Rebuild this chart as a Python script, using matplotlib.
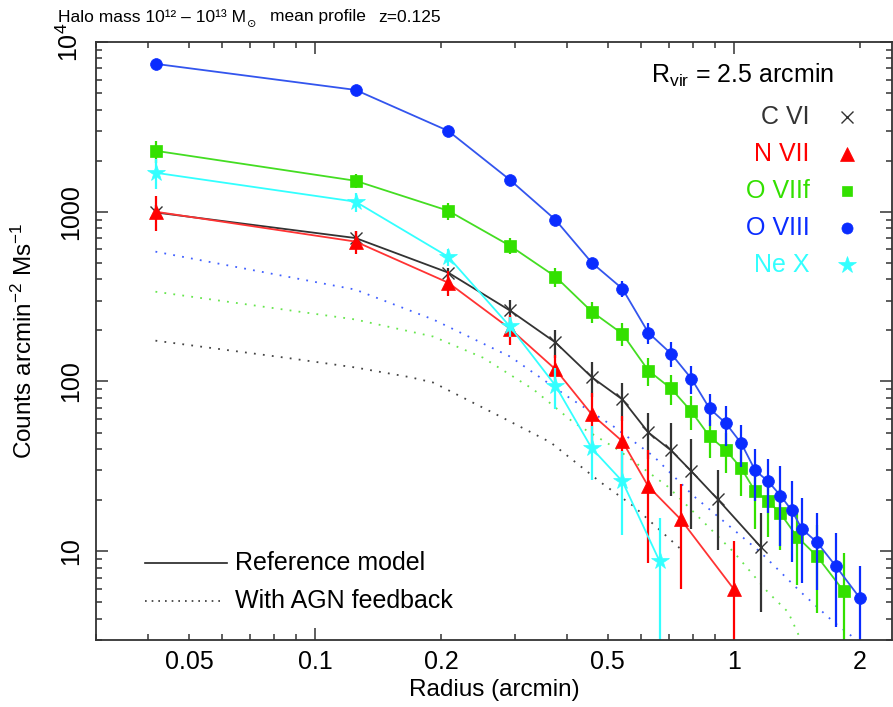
import matplotlib
matplotlib.use("Agg")
import matplotlib.pyplot as plt

# === PARAMÈTRES ===
plt.rcParams['font.family'] = ['Liberation Sans', 'DejaVu Sans']
plt.rcParams['mathtext.fontset'] = 'custom'
plt.rcParams['mathtext.rm'] = 'Liberation Sans'
plt.rcParams['mathtext.it'] = 'Liberation Sans:italic'

# === DONNÉES ===
# O VIII (bleu)
r_o8 = [0.0417, 0.125, 0.208, 0.292, 0.375, 0.458, 0.542, 0.625, 0.708, 0.792, 0.875,
        0.958, 1.042, 1.125, 1.208, 1.292, 1.375, 1.455, 1.58, 1.75, 2.0]
c_o8 = [7430, 5220, 2995, 1542, 897, 501, 352, 194, 146, 104, 69.4,
        56.6, 43.2, 29.9, 25.8, 21.3, 17.4, 13.5, 11.3, 8.2, 5.3]
e_o8 = [200, 150, 100, 60, 40, 30, 37, 28, 24, 20, 15,
        15, 12, 10, 9, 10.5, 8.7, 7, 5.4, 4.6, 2.9]

# O VIIf (vert)
r_o7 = [0.0417, 0.125, 0.208, 0.292, 0.375, 0.458, 0.542, 0.625, 0.708, 0.792,
        0.875, 0.958, 1.042, 1.125, 1.208, 1.292, 1.415, 1.58, 1.83]
c_o7 = [2285, 1522, 1014, 631, 415, 258, 191, 116, 91, 66.6,
        47.5, 39.3, 30.8, 22.5, 19.7, 16.7, 12.2, 9.35, 5.82]
e_o7 = [340, 145, 115, 68, 53, 37, 30, 22, 18, 15,
        12, 10.5, 9.6, 9, 7.5, 6.5, 5.9, 5, 4]

# N VII (rouge)
r_n7 = [0.0417, 0.125, 0.208, 0.292, 0.375, 0.458, 0.542, 0.625, 0.747, 1.0]
c_n7 = [1000, 667, 382, 205, 118, 64, 44.4, 24.1, 15.4, 5.98]
e_n7 = [235, 100, 65, 40, 26, 22, 18, 15.6, 9.4, 5.5]

# C VI (noir)
r_c6 = [0.0417, 0.125, 0.208, 0.292, 0.375, 0.458, 0.542, 0.625, 0.708, 0.792, 0.916, 1.16]
c_c6 = [990, 700, 438, 262, 170, 106, 78.4, 50.1, 39.3, 29.6, 20.2, 10.6]
e_c6 = [100, 70, 30, 42, 32, 25, 20, 15, 18, 16, 10, 6.2]

# Ne X (cyan)
r_ne = [0.0417, 0.125, 0.208, 0.292, 0.375, 0.458, 0.542, 0.665]
c_ne = [1696, 1146, 543, 211, 94.7, 40.4, 25.8, 8.73]
e_ne = [340, 147, 64, 29, 26, 14, 13.4, 7]

# Modèle avec rétroaction AGN (pointillés)
r_agn_o8 = [0.0416, 0.1247, 0.1915, 0.2927, 0.4004, 0.5164, 0.6439, 0.8027, 1.1577, 1.446, 1.733, 2.0]
c_agn_o8 = [582, 348, 232, 140, 81.7, 54.3, 36.2, 21.1, 9.87, 5.74, 3.82, 2.9]
r_agn_o7 = [0.0416, 0.1247, 0.1915, 0.2521, 0.3323, 0.4142, 0.5277, 0.6947, 0.7601, 1.0, 1.206, 1.348, 1.446]
c_agn_o7 = [338, 232, 184, 138, 89.8, 57.4, 39.8, 24.1, 19.4, 9.87, 5.74, 4.38, 3.0]
r_agn_c6 = [0.0416, 0.0871, 0.1247, 0.1687, 0.1915, 0.277, 0.3651, 0.4807, 0.5768, 0.6619, 0.7467]
c_agn_c6 = [174, 137, 121, 106, 98.6, 62.2, 43.8, 25.5, 18.4, 13.5, 10.3]

x_major = [0.1, 1]
x_minor = [0.03, 0.04, 0.05, 0.06, 0.07, 0.08, 0.09, 0.2, 0.3, 0.4, 0.5, 0.6, 0.7, 0.8, 0.9, 2]
x_minor_labels = ['', '', '0.05', '', '', '', '', '0.2', '', '', '0.5', '', '', '', '', '2']
y_major = [10, 100, 1000, 10000]
y_major_labels = ['10', '100', '1000', r'$10^{4}$']
y_minor = [3, 4, 5, 6, 7, 8, 9, 20, 30, 40, 50, 60, 70, 80, 90,
           200, 300, 400, 500, 600, 700, 800, 900, 2000, 3000, 4000, 5000, 6000, 7000, 8000, 9000]

# couleurs
col_c6 = '#333333'
col_n7 = '#ff0000'
col_o7 = '#33e000'
col_o8 = '#0a2cff'
col_ne = '#33ffff'

# === FIGURE ===
fig = plt.figure(figsize=(8.93, 7.07), dpi=100)
ax = fig.add_axes([96 / 893, 67 / 707, 797 / 893 - 0.0008, 598 / 707])

# pointillés AGN
dots = (0, (1, 4))
ax.plot(r_agn_o8, c_agn_o8, color='#4060ff', lw=1.3, ls=dots)
ax.plot(r_agn_o7, c_agn_o7, color='#66e64d', lw=1.3, ls=dots)
ax.plot(r_agn_c6, c_agn_c6, color='#444444', lw=1.3, ls=dots)

# modèle de référence avec barres d'erreur
series = [
    (r_c6, c_c6, e_c6, col_c6, '#333333', 'x', 9, 1.0),
    (r_o7, c_o7, e_o7, col_o7, '#44dd22', 's', 8, 0),
    (r_o8, c_o8, e_o8, col_o8, '#3355ee', 'o', 8.5, 0),
    (r_n7, c_n7, e_n7, col_n7, '#ff3333', '^', 10, 0),
    (r_ne, c_ne, e_ne, col_ne, '#33ffff', '*', 13, 0),
]
for r, c, e, mcol, lcol, mk, ms, mew in series:
    ax.errorbar(r, c, yerr=e, fmt='none', ecolor=mcol, elinewidth=1.6, capsize=0)
    ax.plot(r, c, color=lcol, lw=1.3)
    ax.plot(r, c, ls='none', marker=mk, ms=ms, color=mcol, mec=mcol, mew=mew if mew else 0.5)

ax.set_xscale('log')
ax.set_yscale('log')
ax.set_xlim(0.03, 2.39)
ax.set_ylim(3, 1e4)

ax.set_xticks(x_major, ['0.1', '1'])
ax.set_xticks(x_minor, x_minor_labels, minor=True)
ax.set_yticks(y_major, y_major_labels)
ax.set_yticks(y_minor, [''] * len(y_minor), minor=True)

ax.tick_params(which='both', direction='in', top=True, right=True, colors='#333333',
               labelcolor='black', labelsize=18, width=1.1)
ax.tick_params(which='major', length=8.5)
ax.tick_params(which='minor', length=4.3)
ax.tick_params(axis='x', which='both', pad=7)
ax.tick_params(axis='y', which='both', pad=9.5, labelrotation=90)
for lab in ax.get_yticklabels():
    lab.set_va('center')
for sp in ax.spines.values():
    sp.set_color('#333333')
    sp.set_linewidth(1.3)

ax.set_xlabel('Radius (arcmin)', fontsize=17.5, labelpad=4)
ax.set_ylabel(r'Counts arcmin$^{-2}$ Ms$^{-1}$', fontsize=17.5, labelpad=14)

# titre : morceaux enchaînés (M avec indice ⊙)
t1 = fig.text(58 / 893, 1 - 17 / 707, 'Halo mass 10¹² – 10¹³ M',
              fontsize=12.5, ha='left', va='center')
t2 = plt.annotate('⊙', xy=(1, 0.05), xycoords=t1, xytext=(1, 0), textcoords='offset points',
                  fontsize=8, family=['DejaVu Sans'], ha='left', va='center')
t3 = plt.annotate('mean profile', xy=(1, 0.5), xycoords=t1, xytext=(17, 0),
                  textcoords='offset points', fontsize=12.5, ha='left', va='center')
t4 = plt.annotate('z=0.125', xy=(1, 0.5), xycoords=t3, xytext=(9, 0),
                  textcoords='offset points', fontsize=12.5, ha='left', va='center')

# légende en haut à droite
ax.text(0.812, 0.9448, r'R$_{\rm vir}$ = 2.5 arcmin', transform=ax.transAxes,
        fontsize=18, ha='center', va='center')
noms = ['C VI', 'N VII', 'O VIIf', 'O VIII', 'Ne X']
cols = [col_c6, col_n7, col_o7, col_o8, col_ne]
marks = [('x', 9, 1.0), ('^', 10, 0.5), ('s', 7, 0.5), ('o', 8, 0.5), ('*', 13, 0.5)]
ys = [0.8746, 0.8127, 0.7508, 0.6890, 0.6271]
for nom, col, (mk, ms, mew), yy in zip(noms, cols, marks, ys):
    ax.text(0.896, yy, nom, color=col, transform=ax.transAxes, fontsize=18, ha='right', va='center')
    ax.plot([0.9435], [yy], marker=mk, ms=ms, color=col, mec=col, mew=mew,
            transform=ax.transAxes, clip_on=False)

# légende en bas à gauche
ax.plot([0.0615, 0.1644], [0.1288, 0.1288], color='#222222', lw=1.2, transform=ax.transAxes)
ax.plot([0.0615, 0.158], [0.0652, 0.0652], color='#333333', lw=1.2, ls=(0, (1, 3)),
        transform=ax.transAxes)
ax.text(0.1744, 0.1288, 'Reference model', transform=ax.transAxes, fontsize=18, va='center')
ax.text(0.1744, 0.0652, 'With AGN feedback', transform=ax.transAxes, fontsize=18, va='center')

fig.savefig('out.png', dpi=100)
plt.close(fig)
